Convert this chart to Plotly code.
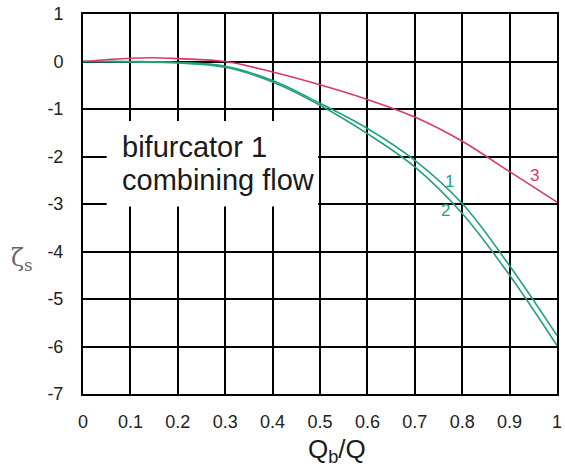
import plotly.graph_objects as go

# Data
x_vals = [0, 0.1, 0.2, 0.3, 0.4, 0.5, 0.6, 0.7, 0.8, 0.9, 1.0]
curve1 = [0, 0.0, -0.02, -0.1, -0.4, -0.88, -1.41, -2.08, -2.99, -4.3, -5.77]
curve2 = [0, -0.01, -0.03, -0.12, -0.43, -0.92, -1.52, -2.22, -3.2, -4.5, -5.98]
x3 = [0, 0.1, 0.15, 0.2, 0.3, 0.4, 0.5, 0.6, 0.7, 0.8, 0.9, 1.0]
curve3 = [0, 0.07, 0.08, 0.06, 0.0, -0.22, -0.49, -0.8, -1.17, -1.68, -2.32, -2.96]

x_ticks = [0, 0.1, 0.2, 0.3, 0.4, 0.5, 0.6, 0.7, 0.8, 0.9, 1]
x_ticktext = ["0", "0.1", "0.2", "0.3", "0.4", "0.5", "0.6", "0.7", "0.8", "0.9", "1"]
y_ticks = [1, 0, -1, -2, -3, -4, -5, -6, -7]
y_ticktext = ["1", "0", "-1", "-2", "-3", "-4", "-5", "-6", "-7"]

GREEN = "#23a07f"
RED = "#d9386c"
FONT = "Arial, Liberation Sans, sans-serif"

fig = go.Figure()
fig.add_trace(go.Scatter(x=x_vals, y=curve1, mode="lines", line=dict(color=GREEN, width=1.6, shape="spline"), showlegend=False))
fig.add_trace(go.Scatter(x=x_vals, y=curve2, mode="lines", line=dict(color=GREEN, width=1.6, shape="spline"), showlegend=False))
fig.add_trace(go.Scatter(x=x3, y=curve3, mode="lines", line=dict(color=RED, width=1.6, shape="spline"), showlegend=False))

fig.add_shape(type="rect", x0=0.05, x1=0.496, y0=-3.05, y1=-1.25, xref="x", yref="y",
              fillcolor="white", line=dict(width=0), layer="between")

annotations = [
    dict(x=0.077, y=-2.17, text="bifurcator 1", xanchor="left", yanchor="bottom", font=dict(size=29, color="#1a1a1a")),
    dict(x=0.077, y=-2.87, text="combining flow", xanchor="left", yanchor="bottom", font=dict(size=29, color="#1a1a1a")),
    dict(x=0.774, y=-2.53, text="1", font=dict(size=17, color=GREEN)),
    dict(x=0.764, y=-3.13, text="2", font=dict(size=17, color=GREEN)),
    dict(x=0.953, y=-2.4, text="3", font=dict(size=17, color=RED)),
]
for a in annotations:
    a.update(xref="x", yref="y", showarrow=False)
    a["font"]["family"] = FONT
    fig.add_annotation(**a)

# axis titles placed by paper coordinates (plot area: left 83, bottom 394, 474 x 380 px)
fig.add_annotation(x=(337 - 83) / 474, y=(466 - 450 - 72) / 380, xref="paper", yref="paper",
                   text="Q<sub>b</sub>/Q", showarrow=False, xanchor="center", yanchor="middle",
                   font=dict(size=26, family=FONT, color="#1a1a1a"))
fig.add_annotation(x=(22 - 83) / 474, y=(466 - 259 - 72) / 380, xref="paper", yref="paper",
                   text="ζ<sub>s</sub>", showarrow=False, xanchor="center", yanchor="middle",
                   font=dict(size=24, family="DejaVu Serif, serif", color="#666666"))

fig.update_xaxes(range=[0, 1], tickvals=x_ticks, ticktext=x_ticktext, showgrid=True, gridcolor="black",
                 gridwidth=2, zeroline=False, showline=True, linecolor="black", linewidth=2, mirror=True,
                 ticks="", ticklabelstandoff=10, tickfont=dict(size=18, family=FONT, color="#222222"),
                 automargin=False, fixedrange=True)
fig.update_yaxes(range=[-7, 1], tickvals=y_ticks, ticktext=y_ticktext, showgrid=True, gridcolor="black",
                 gridwidth=2, zeroline=False, showline=True, linecolor="black", linewidth=2, mirror=True,
                 ticks="", ticklabelstandoff=14, tickfont=dict(size=18, family=FONT, color="#222222"),
                 automargin=False, fixedrange=True)

fig.update_layout(width=565, height=466, margin=dict(l=83, r=8, t=14, b=72),
                  plot_bgcolor="white", paper_bgcolor="white", showlegend=False)

fig.write_html("out.html", config={"displayModeBar": False},
               post_script="document.body.style.margin='0';document.body.style.overflow='hidden';")
